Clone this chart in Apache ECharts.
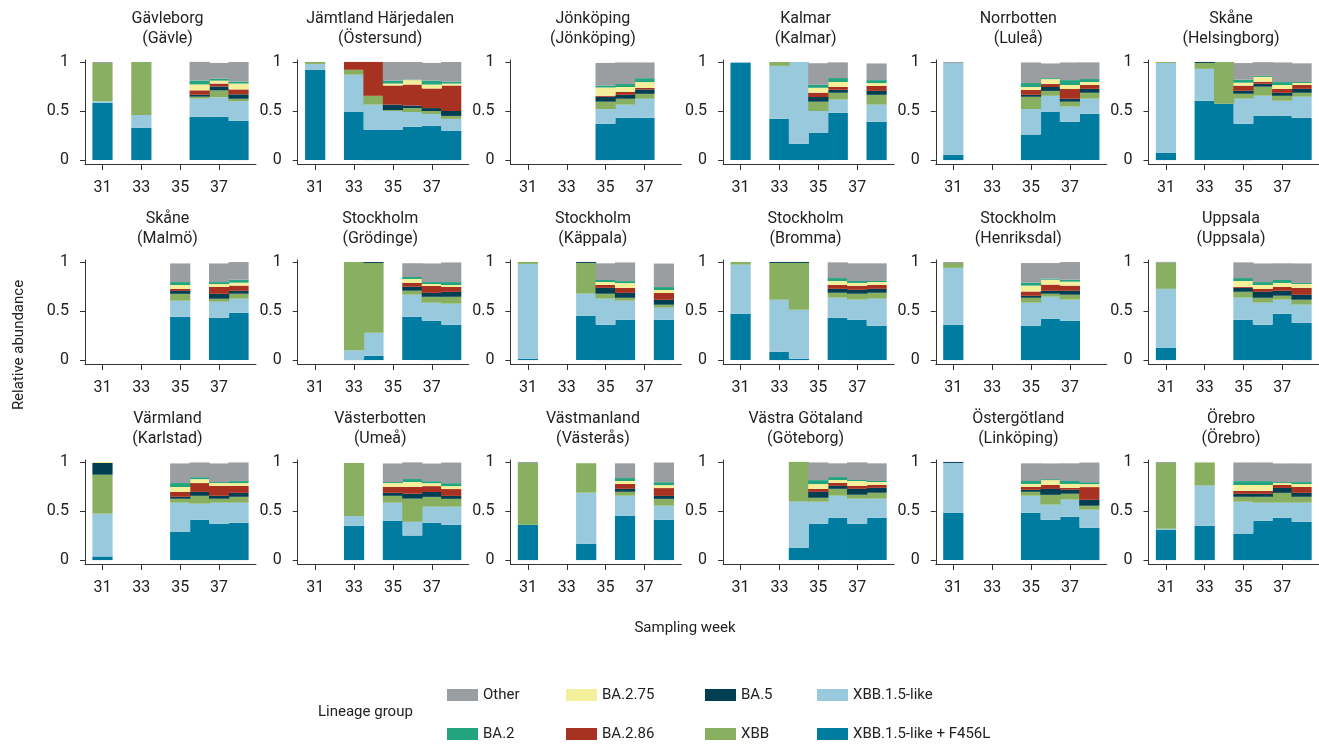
<!DOCTYPE html>
<html lang="sv">
<head>
<meta charset="UTF-8">
<title>Lineage group per sampling week</title>
<script src="https://cdn.jsdelivr.net/npm/echarts@6/dist/echarts.min.js"></script>
<style>
    html, body { margin: 0; padding: 0; background: #fff; }
    #main { width: 1319px; height: 744px; }
</style>
</head>
<body>
<div id="main"></div>
<script>
// sampling weeks on the x axis, and the weeks that get a tick label
var weeks = [31, 32, 33, 34, 35, 36, 37, 38];
var tickWeeks = [31, 33, 35, 37];
var tickAbundance = [0, 0.5, 1];

// stack order, bottom to top
var lineages = ['XBB.1.5-like + F456L', 'XBB.1.5-like', 'XBB', 'BA.5', 'BA.2.86', 'BA.2.75', 'BA.2', 'Other'];
var lineageColors = ['#007ca0', '#98c9dc', '#88b060', '#003f52', '#a83222', '#f3ef9a', '#21a47f', '#9a9ea1'];

// one entry per week 31..38 (null = no sample), values in lineages order
var gavle = [[0.585, 0.015, 0.39, 0, 0, 0, 0, 0.01], null, [0.33, 0.13, 0.54, 0, 0, 0, 0, 0], null, null,
    [0.44, 0.186, 0.02, 0.02, 0.045, 0.06, 0.04, 0.19], [0.44, 0.20, 0.07, 0.04, 0.03, 0.03, 0.02, 0.16],
    [0.40, 0.20, 0.025, 0.045, 0.05, 0.06, 0.02, 0.20]];
var ostersund = [[0.92, 0.06, 0.02, 0, 0, 0, 0, 0], null, [0.49, 0.38, 0.05, 0, 0.08, 0, 0, 0],
    [0.31, 0.255, 0.09, 0, 0.345, 0, 0, 0], [0.31, 0.19, 0.01, 0.055, 0.195, 0.02, 0.03, 0.19],
    [0.34, 0.15, 0.04, 0.025, 0.215, 0.045, 0.005, 0.18], [0.35, 0.12, 0.03, 0.03, 0.20, 0.04, 0.04, 0.18],
    [0.30, 0.12, 0.03, 0.05, 0.26, 0.02, 0.02, 0.20]];
var jonkoping = [null, null, null, null, [0.37, 0.15, 0.075, 0.05, 0.01, 0.085, 0.02, 0.23],
    [0.43, 0.135, 0.06, 0.04, 0.03, 0.05, 0.03, 0.22], [0.43, 0.195, 0.05, 0.045, 0.015, 0.06, 0.04, 0.16], null];
var kalmar = [[0.99, 0.01, 0, 0, 0, 0, 0, 0], null, [0.42, 0.54, 0.04, 0, 0, 0, 0, 0], [0.167, 0.833, 0, 0, 0, 0, 0, 0],
    [0.28, 0.22, 0.095, 0.048, 0.044, 0.05, 0.03, 0.22], [0.483, 0.133, 0.07, 0.03, 0.03, 0.05, 0.04, 0.16], null,
    [0.39, 0.175, 0.10, 0.04, 0.05, 0.03, 0.03, 0.17]];
var lulea = [[0.054, 0.936, 0, 0, 0, 0, 0, 0.01], null, null, null, [0.26, 0.26, 0.125, 0.02, 0.05, 0.03, 0.04, 0.21],
    [0.49, 0.165, 0.05, 0.04, 0.03, 0.05, 0.01, 0.15], [0.39, 0.155, 0.05, 0.03, 0.10, 0.04, 0.05, 0.18],
    [0.473, 0.153, 0.06, 0.04, 0.04, 0.03, 0.03, 0.17]];
var helsingborg = [[0.075, 0.915, 0.01, 0, 0, 0, 0, 0], null, [0.605, 0.325, 0.06, 0.01, 0, 0, 0, 0],
    [0.575, 0, 0.425, 0, 0, 0, 0, 0], [0.37, 0.256, 0.05, 0.03, 0.053, 0.03, 0.03, 0.17],
    [0.45, 0.206, 0.092, 0.03, 0.02, 0.05, 0.01, 0.14], [0.45, 0.155, 0.05, 0.03, 0.04, 0.04, 0.03, 0.20],
    [0.43, 0.216, 0.04, 0.04, 0.04, 0.02, 0.01, 0.19]];
var malmo = [null, null, null, null, [0.44, 0.165, 0.07, 0.03, 0.02, 0.04, 0.03, 0.19], null,
    [0.43, 0.165, 0.03, 0.05, 0.07, 0.03, 0.02, 0.19], [0.483, 0.143, 0.05, 0.03, 0.053, 0.03, 0.03, 0.18]];
var grodinge = [null, null, [0.005, 0.095, 0.90, 0, 0, 0, 0, 0], [0.044, 0.235, 0.71, 0.01, 0, 0, 0, 0], null,
    [0.44, 0.227, 0.04, 0.04, 0.04, 0.04, 0.02, 0.14], [0.40, 0.185, 0.06, 0.04, 0.07, 0.02, 0.02, 0.19],
    [0.36, 0.215, 0.07, 0.05, 0.05, 0.02, 0.03, 0.20]];
var kappala = [[0.014, 0.966, 0.02, 0, 0, 0, 0, 0], null, null, [0.45, 0.227, 0.313, 0.01, 0, 0, 0, 0],
    [0.36, 0.266, 0.05, 0.06, 0.03, 0.03, 0.02, 0.17], [0.41, 0.195, 0.03, 0.05, 0.05, 0.05, 0.02, 0.19], null,
    [0.41, 0.124, 0.03, 0.05, 0.07, 0.03, 0.03, 0.24]];
var bromma = [[0.473, 0.50, 0.027, 0, 0, 0, 0, 0], null, [0.085, 0.53, 0.375, 0.01, 0, 0, 0, 0],
    [0.014, 0.50, 0.476, 0.01, 0, 0, 0, 0], null, [0.43, 0.206, 0.05, 0.04, 0.04, 0.04, 0.03, 0.16],
    [0.41, 0.206, 0.06, 0.04, 0.04, 0.03, 0.02, 0.18], [0.35, 0.276, 0.06, 0.04, 0.04, 0.03, 0.01, 0.18]];
var henriksdal = [[0.36, 0.58, 0.05, 0, 0, 0, 0, 0.01], null, null, null,
    [0.35, 0.235, 0.05, 0.02, 0.044, 0.06, 0.03, 0.20], [0.42, 0.226, 0.03, 0.03, 0.063, 0.05, 0.01, 0.16],
    [0.40, 0.216, 0.05, 0.04, 0.053, 0.04, 0.02, 0.18], null];
var uppsala = [[0.126, 0.60, 0.265, 0, 0, 0, 0, 0.01], null, null, null,
    [0.41, 0.226, 0.06, 0.04, 0.01, 0.06, 0.03, 0.16], [0.36, 0.225, 0.05, 0.06, 0.03, 0.04, 0.03, 0.19],
    [0.473, 0.143, 0.04, 0.05, 0.04, 0.04, 0.03, 0.17], [0.38, 0.185, 0.05, 0.05, 0.07, 0.04, 0.01, 0.20]];
var karlstad = [[0.037, 0.436, 0.397, 0.12, 0, 0.01, 0, 0], null, null, null,
    [0.29, 0.295, 0.04, 0.02, 0.05, 0.05, 0.04, 0.20], [0.41, 0.165, 0.08, 0.04, 0.09, 0.04, 0.02, 0.15],
    [0.37, 0.215, 0.04, 0.03, 0.10, 0.03, 0.01, 0.19], [0.38, 0.205, 0.06, 0.04, 0.07, 0.03, 0.02, 0.19]];
var umea = [null, null, [0.35, 0.10, 0.54, 0, 0, 0, 0, 0], null, [0.40, 0.185, 0.07, 0.03, 0.06, 0.04, 0.01, 0.19],
    [0.25, 0.14, 0.236, 0.05, 0.07, 0.05, 0.03, 0.17], [0.38, 0.164, 0.10, 0.05, 0.06, 0.03, 0.02, 0.18],
    [0.36, 0.184, 0.08, 0.03, 0.07, 0.03, 0.03, 0.21]];
var vasteras = [[0.36, 0, 0.63, 0, 0, 0, 0, 0.01], null, null, [0.167, 0.52, 0.30, 0, 0, 0, 0, 0], null,
    [0.45, 0.206, 0.04, 0.03, 0.05, 0.03, 0.03, 0.15], null, [0.41, 0.144, 0.07, 0.03, 0.08, 0.03, 0.03, 0.20]];
var goteborg = [null, null, null, [0.126, 0.47, 0.405, 0, 0, 0, 0, 0], [0.37, 0.225, 0.04, 0.06, 0.03, 0.05, 0.04, 0.18],
    [0.43, 0.226, 0.07, 0.03, 0.03, 0.03, 0.03, 0.14], [0.37, 0.256, 0.04, 0.06, 0.03, 0.05, 0.01, 0.18],
    [0.43, 0.196, 0.06, 0.05, 0.03, 0.03, 0.01, 0.18]];
var linkoping = [[0.483, 0.507, 0, 0.01, 0, 0, 0, 0], null, null, null,
    [0.483, 0.173, 0.04, 0.02, 0.03, 0.03, 0.03, 0.18], [0.41, 0.155, 0.10, 0.06, 0.04, 0.05, 0.01, 0.16],
    [0.44, 0.176, 0.06, 0.04, 0.02, 0.04, 0.03, 0.18], [0.33, 0.184, 0.04, 0.06, 0.13, 0.03, 0.02, 0.20]];
var orebro = [[0.31, 0.01, 0.67, 0, 0, 0, 0, 0.01], null, [0.35, 0.41, 0.235, 0, 0, 0, 0, 0], null,
    [0.27, 0.325, 0.05, 0.03, 0.03, 0.06, 0.04, 0.19], [0.40, 0.185, 0.06, 0.03, 0.03, 0.06, 0.04, 0.19],
    [0.43, 0.155, 0.10, 0.05, 0.03, 0.02, 0.01, 0.19], [0.39, 0.195, 0.06, 0.04, 0.06, 0.03, 0.02, 0.19]];

var panelTitles = [
    'Gävleborg\n(Gävle)', 'Jämtland Härjedalen\n(Östersund)', 'Jönköping\n(Jönköping)',
    'Kalmar\n(Kalmar)', 'Norrbotten\n(Luleå)', 'Skåne\n(Helsingborg)',
    'Skåne\n(Malmö)', 'Stockholm\n(Grödinge)', 'Stockholm\n(Käppala)',
    'Stockholm\n(Bromma)', 'Stockholm\n(Henriksdal)', 'Uppsala\n(Uppsala)',
    'Värmland\n(Karlstad)', 'Västerbotten\n(Umeå)', 'Västmanland\n(Västerås)',
    'Västra Götaland\n(Göteborg)', 'Östergötland\n(Linköping)', 'Örebro\n(Örebro)'
];
var panelData = [gavle, ostersund, jonkoping, kalmar, lulea, helsingborg,
    malmo, grodinge, kappala, bromma, henriksdal, uppsala,
    karlstad, umea, vasteras, goteborg, linkoping, orebro];

// legend columns, read top to bottom
var legendColumns = [['Other', 'BA.2'], ['BA.2.75', 'BA.2.86'], ['BA.5', 'XBB'], ['XBB.1.5-like', 'XBB.1.5-like + F456L']];

var font = 'Roboto, "Noto Sans", sans-serif';
var textColor = '#222';
var axisColor = '#333';

var myChart = echarts.init(document.getElementById('main'));

var colStep = 212.7, plotW = 171, plotH = 104;
var grids = [], xAxes = [], yAxes = [], series = [], graphics = [];

panelData.forEach(function (panel, p) {
    var row = Math.floor(p / 6), col = p % 6;
    var left = 85 + colStep * col, top = 60 + 200 * row;

    grids.push({left: left, top: top, width: plotW, height: plotH});

    graphics.push({
        type: 'text', x: left + plotW / 2 - 3, y: 9 + 200 * row,
        style: {text: panelTitles[p], font: '16px ' + font, fill: textColor,
            textAlign: 'center', textVerticalAlign: 'top', lineHeight: 20}
    });

    xAxes.push({
        gridIndex: p, type: 'value', min: 30.1, max: 38.9,
        axisLine: {show: true, onZero: false, lineStyle: {color: axisColor, width: 1}},
        axisTick: {show: true, length: 6, customValues: tickWeeks, lineStyle: {color: axisColor}},
        axisLabel: {customValues: tickWeeks, margin: 16, fontSize: 16, fontFamily: font, color: textColor},
        splitLine: {show: false}
    });
    yAxes.push({
        gridIndex: p, type: 'value', min: -0.04, max: 1.02,
        axisLine: {show: true, onZero: false, lineStyle: {color: axisColor, width: 1}},
        axisTick: {show: true, length: 5, customValues: tickAbundance, lineStyle: {color: axisColor}},
        axisLabel: {customValues: tickAbundance, margin: 16, fontSize: 16, fontFamily: font, color: textColor},
        splitLine: {show: false}
    });

    lineages.forEach(function (name, k) {
        // value first so the stack runs on the abundance, week second
        series.push({
            name: name, type: 'bar', xAxisIndex: p, yAxisIndex: p, stack: 'panel' + p,
            encode: {x: 1, y: 0},
            barWidth: 20.2, itemStyle: {color: lineageColors[k]}, silent: true,
            data: weeks.map(function (w, i) {
                return [panel[i] ? panel[i][k] : '-', w];
            })
        });
    });
});

// axis names and legend heading
graphics.push({
    type: 'text', x: 19, y: 345, rotation: Math.PI / 2,
    style: {text: 'Relative abundance', font: '15px ' + font, fill: textColor,
        textAlign: 'center', textVerticalAlign: 'middle'}
});
graphics.push({
    type: 'text', x: 685, y: 628,
    style: {text: 'Sampling week', font: '15px ' + font, fill: textColor,
        textAlign: 'center', textVerticalAlign: 'middle'}
});
graphics.push({
    type: 'text', x: 318, y: 712,
    style: {text: 'Lineage group', font: '15px ' + font, fill: textColor,
        textAlign: 'left', textVerticalAlign: 'middle'}
});

var legendLefts = [447, 566, 705, 817];
var legends = legendColumns.map(function (names, i) {
    return {
        data: names, orient: 'vertical', left: legendLefts[i], top: 687,
        itemWidth: 31, itemHeight: 12, itemGap: 23, icon: 'rect', selectedMode: false,
        padding: 0, textStyle: {fontSize: 15, fontFamily: font, color: textColor, lineHeight: 16}
    };
});

var option = {
    animation: false,
    grid: grids,
    xAxis: xAxes,
    yAxis: yAxes,
    legend: legends,
    graphic: graphics,
    series: series
};

myChart.setOption(option);
</script>
</body>
</html>
